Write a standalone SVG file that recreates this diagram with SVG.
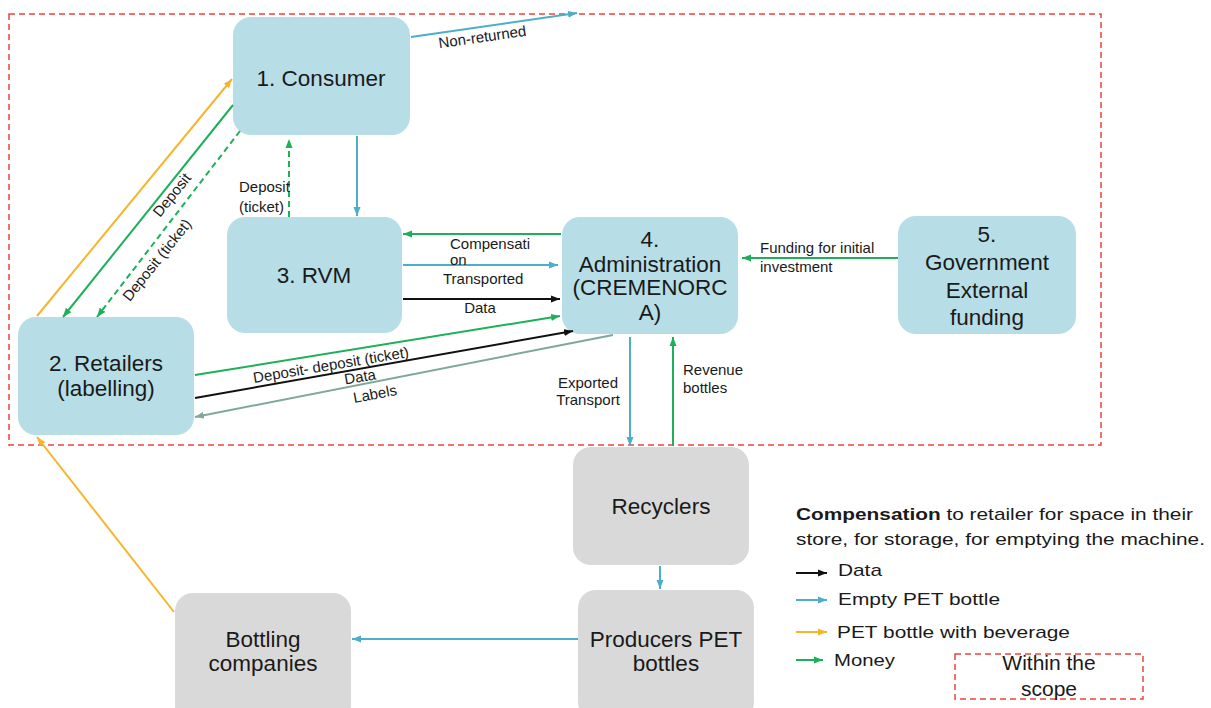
<svg xmlns="http://www.w3.org/2000/svg" width="1211" height="708" viewBox="0 0 1211 708">
<style>
  text { font-family: "Liberation Sans", Arial, sans-serif; fill: #1a1a1a; }
  .node { fill: #b7dee6; }
  .ext { fill: #d9d9d9; }
  .nt { font-size: 22.5px; text-anchor: middle; }
  .lb { font-size: 15px; }
  .lg { font-size: 17px; }
  .scope { fill: none; stroke: #e8453c; stroke-width: 1.5; stroke-dasharray: 6 4; }
  .c { fill: none; stroke-width: 2; }
  .blue { stroke: #4bafc9; }
  .green { stroke: #1db058; }
  .black { stroke: #111; }
  .yellow { stroke: #f7b52b; }
  .gg { stroke: #7fa898; }
  .dash { stroke-dasharray: 6 4; }
</style>
<defs>
  <marker id="aBlue" markerUnits="userSpaceOnUse" markerWidth="10" markerHeight="8" refX="9" refY="4" orient="auto"><path d="M0,0.5 L9,4 L0,7.5 z" fill="#4bafc9"/></marker>
  <marker id="aGreen" markerUnits="userSpaceOnUse" markerWidth="10" markerHeight="8" refX="9" refY="4" orient="auto"><path d="M0,0.5 L9,4 L0,7.5 z" fill="#1db058"/></marker>
  <marker id="aBlack" markerUnits="userSpaceOnUse" markerWidth="10" markerHeight="8" refX="9" refY="4" orient="auto"><path d="M0,0.5 L9,4 L0,7.5 z" fill="#111"/></marker>
  <marker id="aYellow" markerUnits="userSpaceOnUse" markerWidth="10" markerHeight="8" refX="9" refY="4" orient="auto"><path d="M0,0.5 L9,4 L0,7.5 z" fill="#f7b52b"/></marker>
  <marker id="aGG" markerUnits="userSpaceOnUse" markerWidth="10" markerHeight="8" refX="9" refY="4" orient="auto"><path d="M0,0.5 L9,4 L0,7.5 z" fill="#7fa898"/></marker>
</defs>

<rect id="scope" class="scope" x="9" y="14" width="1092" height="431"/>

<g id="consumer"><rect class="node" x="233" y="17" width="177" height="118" rx="18"/><text class="nt" x="321" y="86">1. Consumer</text></g>
<g id="rvm"><rect class="node" x="227" y="217" width="175" height="116" rx="18"/><text class="nt" x="314" y="283">3. RVM</text></g>
<g id="retailers"><rect class="node" x="18" y="317" width="176" height="118" rx="18"/><text class="nt" x="106" y="371">2. Retailers</text><text class="nt" x="106" y="396">(labelling)</text></g>
<g id="admin"><rect class="node" x="562" y="217" width="176" height="117" rx="18"/><text class="nt" x="650" y="247">4.</text><text class="nt" x="650" y="272">Administration</text><text class="nt" x="650" y="295">(CREMENORC</text><text class="nt" x="650" y="320">A)</text></g>
<g id="government"><rect class="node" x="898" y="216" width="178" height="118" rx="18"/><text class="nt" x="987" y="242">5.</text><text class="nt" x="987" y="270">Government</text><text class="nt" x="987" y="298">External</text><text class="nt" x="987" y="325">funding</text></g>
<g id="recyclers"><rect class="ext" x="573" y="447" width="176" height="118" rx="18"/><text class="nt" x="661" y="514">Recyclers</text></g>
<g id="producers"><rect class="ext" x="578" y="590" width="176" height="130" rx="18"/><text class="nt" x="666" y="647">Producers PET</text><text class="nt" x="666" y="671">bottles</text></g>
<g id="bottling"><rect class="ext" x="175" y="593" width="176" height="130" rx="18"/><text class="nt" x="263" y="647">Bottling</text><text class="nt" x="263" y="671">companies</text></g>

<g id="connectors">
  <line class="c blue" x1="411" y1="37" x2="577" y2="13" marker-end="url(#aBlue)"/>
  <line class="c blue" x1="357" y1="136" x2="357" y2="216" marker-end="url(#aBlue)"/>
  <line class="c green dash" x1="289" y1="217" x2="289" y2="139" marker-end="url(#aGreen)"/>
  <line class="c yellow" x1="37" y1="316" x2="232" y2="79" marker-end="url(#aYellow)"/>
  <line class="c green" x1="233" y1="105" x2="63" y2="317" marker-end="url(#aGreen)"/>
  <line class="c green dash" x1="240" y1="131" x2="97" y2="317" marker-end="url(#aGreen)"/>
  <line class="c green" x1="561" y1="234" x2="403" y2="234" marker-end="url(#aGreen)"/>
  <line class="c blue" x1="403" y1="265" x2="558" y2="265" marker-end="url(#aBlue)"/>
  <line class="c black" x1="403" y1="299" x2="560" y2="299" marker-end="url(#aBlack)"/>
  <line class="c green" x1="195" y1="375" x2="560" y2="316" marker-end="url(#aGreen)"/>
  <line class="c black" x1="195" y1="398" x2="573" y2="331" marker-end="url(#aBlack)"/>
  <line class="c gg" x1="613" y1="335" x2="195" y2="417" marker-end="url(#aGG)"/>
  <line class="c blue" x1="630" y1="337" x2="630" y2="446" marker-end="url(#aBlue)"/>
  <line class="c green" x1="673" y1="446" x2="673" y2="337" marker-end="url(#aGreen)"/>
  <line class="c green" x1="898" y1="258" x2="742" y2="258" marker-end="url(#aGreen)"/>
  <line class="c blue" x1="660" y1="566" x2="660" y2="589" marker-end="url(#aBlue)"/>
  <line class="c blue" x1="578" y1="639" x2="352" y2="639" marker-end="url(#aBlue)"/>
  <line class="c yellow" x1="174" y1="612" x2="37" y2="437" marker-end="url(#aYellow)"/>
</g>

<g id="labels">
  <text class="lb" text-anchor="middle" transform="translate(483,42) rotate(-8.2)">Non-returned</text>
  <text class="lb" x="239" y="192">Deposit</text>
  <text class="lb" x="239" y="212">(ticket)</text>
  <text class="lb" text-anchor="middle" transform="translate(172,195) rotate(-51.3) translate(0,5)">Deposit</text>
  <text class="lb" text-anchor="middle" transform="translate(157,260) rotate(-51.3) translate(0,5)">Deposit (ticket)</text>
  <text class="lb" x="450" y="249">Compensati</text>
  <text class="lb" x="450" y="265">on</text>
  <text class="lb" x="443" y="284">Transported</text>
  <text class="lb" x="480" y="313" text-anchor="middle">Data</text>
  <text class="lb" text-anchor="middle" transform="translate(331,365) rotate(-9.5) translate(0,5)">Deposit- deposit (ticket)</text>
  <text class="lb" text-anchor="middle" transform="translate(360,377) rotate(-9.8) translate(0,5)">Data</text>
  <text class="lb" text-anchor="middle" transform="translate(375,394) rotate(-10.5) translate(0,5)">Labels</text>
  <text class="lb" x="588" y="388" text-anchor="middle">Exported</text>
  <text class="lb" x="588" y="405" text-anchor="middle">Transport</text>
  <text class="lb" x="683" y="375">Revenue</text>
  <text class="lb" x="683" y="393">bottles</text>
  <text class="lb" x="760" y="253">Funding for initial</text>
  <text class="lb" x="760" y="272">investment</text>
</g>

<g id="legend">
  <text class="lg" x="796" y="520" textLength="397" lengthAdjust="spacingAndGlyphs"><tspan font-weight="bold">Compensation</tspan> to retailer for space in their</text>
  <text class="lg" x="796" y="545" textLength="409" lengthAdjust="spacingAndGlyphs">store, for storage, for emptying the machine.</text>
  <line class="c black" x1="796" y1="573" x2="827" y2="573" stroke-width="1.5" marker-end="url(#aBlack)"/>
  <text class="lg" x="838" y="576" textLength="44" lengthAdjust="spacingAndGlyphs">Data</text>
  <line class="c blue" x1="796" y1="600" x2="827" y2="600" stroke-width="1.5" marker-end="url(#aBlue)"/>
  <text class="lg" x="838" y="605" textLength="162" lengthAdjust="spacingAndGlyphs">Empty PET bottle</text>
  <line class="c yellow" x1="796" y1="632" x2="827" y2="632" stroke-width="1.5" marker-end="url(#aYellow)"/>
  <text class="lg" x="837" y="638" textLength="233" lengthAdjust="spacingAndGlyphs">PET bottle with beverage</text>
  <line class="c green" x1="796" y1="660" x2="823" y2="660" stroke-width="1.5" marker-end="url(#aGreen)"/>
  <text class="lg" x="834" y="666" textLength="61" lengthAdjust="spacingAndGlyphs">Money</text>
  <rect class="scope" x="955" y="654" width="188" height="45"/>
  <text x="1049" y="670" font-size="21" text-anchor="middle">Within the</text>
  <text x="1049" y="696" font-size="21" text-anchor="middle">scope</text>
</g>
</svg>
